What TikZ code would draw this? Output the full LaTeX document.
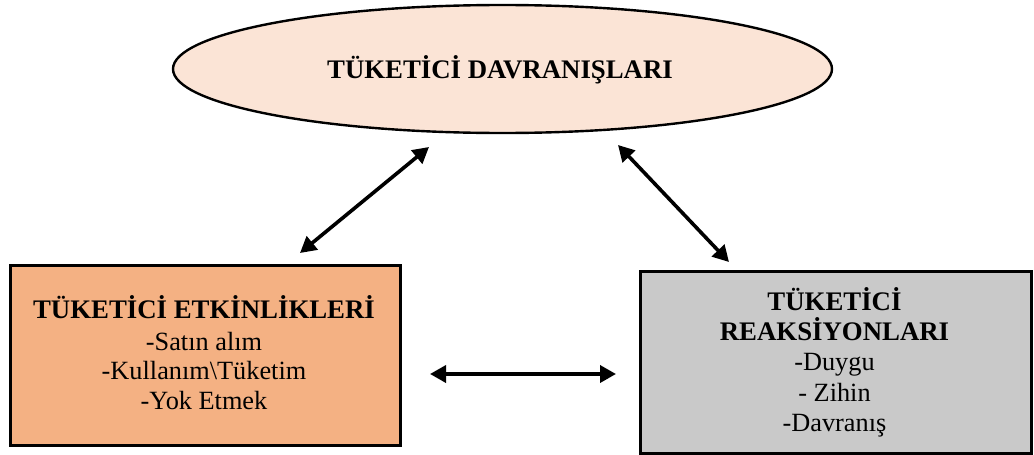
\documentclass[tikz,border=0pt]{standalone}
\usepackage{fontspec}
\setmainfont{Liberation Serif}
\usetikzlibrary{shapes.geometric,arrows.meta}
\definecolor{ellfill}{HTML}{FBE4D6}
\definecolor{actfill}{HTML}{F4B183}
\definecolor{reafill}{HTML}{C9C9C9}
\tikzset{
  boxshape/.style={draw=black,line width=2.6pt,inner sep=0pt,anchor=north west},
  txt/.style={anchor=base,inner sep=0pt,font=\fontsize{26.3}{30}\selectfont},
  btxt/.style={txt,font=\fontsize{26.8}{30}\selectfont\bfseries},
  arr/.style={line width=3.6pt,{Triangle[length=16pt,width=17pt]}-{Triangle[length=16pt,width=17pt]}}
}
\begin{document}
\begin{tikzpicture}[x=1pt,y=-1pt]
\useasboundingbox (0,0) rectangle (1034,455);
% ellipse
\node[ellipse,draw=black,line width=2.4pt,fill=ellfill,minimum width=659pt,minimum height=128pt,inner sep=0pt] (top) at (502.5,69) {};
\node[btxt] (toptxt) at (500,78) {TÜKETİCİ DAVRANIŞLARI};
% left box
\node[boxshape,fill=actfill,minimum width=390pt,minimum height=180pt] (act) at (9,264) {};
\node[btxt] (act1) at (204,318) {TÜKETİCİ ETKİNLİKLERİ};
\node[txt] (act2) at (204,350) {-Satın alım};
\node[txt] (act3) at (204,379.5) {-Kullanım\textbackslash Tüketim};
\node[txt] (act4) at (204,409) {-Yok Etmek};
% right box
\node[boxshape,line width=3pt,fill=reafill,minimum width=391pt,minimum height=182pt] (rea) at (639,270) {};
\node[btxt] (rea1) at (834.5,310) {TÜKETİCİ};
\node[btxt] (rea2) at (834.5,340) {REAKSİYONLARI};
\node[txt] (rea3) at (834.5,370) {-Duygu};
\node[txt] (rea4) at (834.5,401) {- Zihin};
\node[txt] (rea5) at (834.5,431) {-Davranış};
% arrow end points
\coordinate (l1) at (300,253);
\coordinate (l2) at (429,147);
\coordinate (r1) at (618,145);
\coordinate (r2) at (729,262);
\coordinate (h1) at (430,374);
\coordinate (h2) at (616,374);
\draw[arr] (l1) -- (l2);
\draw[arr] (r1) -- (r2);
\draw[arr] (h1) -- (h2);
\end{tikzpicture}
\end{document}
